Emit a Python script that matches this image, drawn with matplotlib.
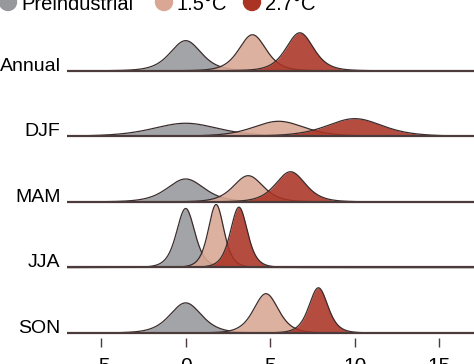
import numpy as np
import matplotlib.pyplot as plt
from matplotlib.patches import Circle

plt.rcParams['font.family'] = ['Liberation Sans', 'DejaVu Sans']
plt.rcParams['axes.unicode_minus'] = False

# rows, top to bottom
seasons = ["Annual", "DJF", "MAM", "JJA", "SON"]
scenarios = ["Preindustrial", "1.5°C", "2.7°C"]

# centre of each distribution (deg C), per season: preind, 1.5, 2.7
centers = {
    "Annual": [0.0, 3.95, 6.75],
    "DJF":    [0.0, 5.5, 10.0],
    "MAM":    [0.0, 3.7, 6.2],
    "JJA":    [0.0, 1.8, 3.15],
    "SON":    [0.0, 4.75, 7.85],
}
# spread of each distribution
widths = {
    "Annual": [0.95, 0.83, 0.84],
    "DJF":    [2.0, 1.56, 1.7],
    "MAM":    [1.13, 0.91, 0.91],
    "JJA":    [0.56, 0.48, 0.52],
    "SON":    [0.97, 0.76, 0.58],
}
# peak height, as fraction of row spacing
peaks = {
    "Annual": [0.46, 0.55, 0.58],
    "DJF":    [0.20, 0.23, 0.27],
    "MAM":    [0.35, 0.40, 0.46],
    "JJA":    [0.90, 0.96, 0.92],
    "SON":    [0.46, 0.60, 0.69],
}

colors = ["#97989c", "#d9a793", "#aa3324"]
edge = "#3a2c2c"

def shape(x, mu, w, nu=5):
    z = (x - mu) / w
    return (1 + z**2 / nu) ** (-(nu + 1) / 2)

fig = plt.figure(figsize=(4.74, 3.64), dpi=100)
ax = fig.add_axes([67.3 / 474, 26 / 364, 1 - 67.3 / 474, 338 / 364])

x = np.linspace(-7, 17.2, 1200)
n = len(seasons)
for i, s in enumerate(seasons):
    base = n - 1 - i
    for k in range(3):
        y = peaks[s][k] * shape(x, centers[s][k], widths[s][k])
        ax.fill_between(x, base, base + y, color=colors[k], alpha=0.88,
                        lw=0, zorder=2 + k)
        ax.plot(x, base + y, color=edge, lw=0.9, zorder=2 + k)
    ax.plot([-7, 17.2], [base, base], color="#4b3b3b", lw=1.6, zorder=10,
            solid_capstyle="butt")
    ax.text(-7.4, base, s, ha="right", va="baseline", fontsize=14)

ax.set_xlim(-7, 17.05)
ax.set_ylim(-0.076, 5.08)
ax.set_xticks([-5, 0, 5, 10, 15])
ax.set_yticks([])
for sp in ax.spines.values():
    sp.set_visible(False)
ax.tick_params(axis="x", length=6.5, width=1, color="#4b3b3b", pad=7,
               labelsize=15)

# legend across the top
legend_x = [8, 164, 252]
text_x = [21, 177, 265]
for cx, tx, c, lab in zip(legend_x, text_x, colors, scenarios):
    fig.add_artist(Circle((cx / 100, (364 - 2) / 100), 0.085, color=c,
                          transform=fig.dpi_scale_trans))
    fig.text(tx / 474, 1 - 9.5 / 364, lab, ha="left", va="baseline",
             fontsize=14.5)

fig.savefig("out.png", dpi=100)
